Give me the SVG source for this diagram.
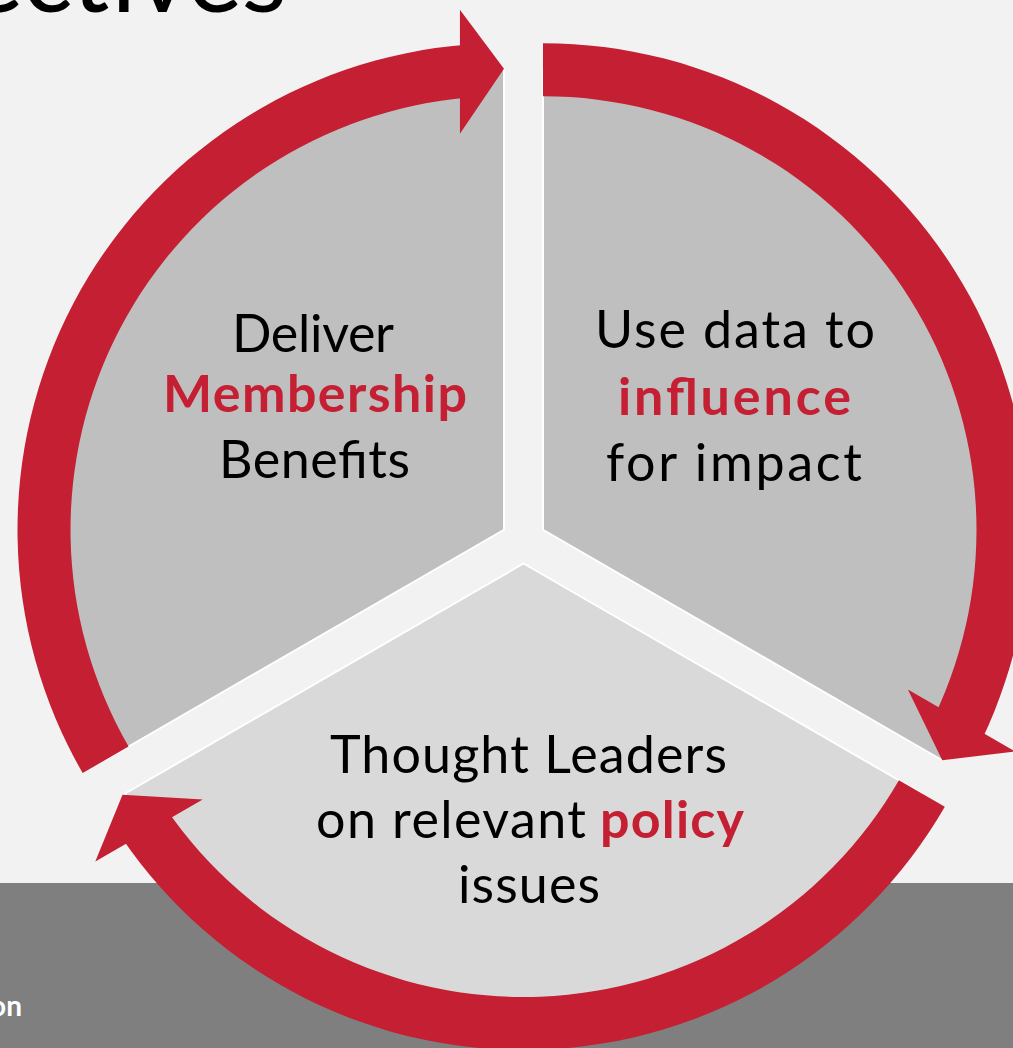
<svg xmlns="http://www.w3.org/2000/svg" width="1013" height="1048" viewBox="0 0 1013 1048">
<style>
.bg{fill:#f2f2f2}
.band{fill:#7f7f7f}
.sec{stroke:#ffffff;stroke-width:2}
.dark{fill:#bfbfbf}
.light{fill:#d9d9d9}
.ring{fill:#c41f32}
.t{font-family:Lato,"Open Sans","Liberation Sans",sans-serif;font-size:52px;fill:#000000;text-anchor:middle}
.b{font-weight:bold;fill:#c41f32}
</style>
<rect class="bg" x="0" y="0" width="1013" height="1048"/>
<rect class="band" x="0" y="883" width="1013" height="165"/>
<text x="-32" y="12" font-family="Lato,'Open Sans','Liberation Sans',sans-serif" font-size="105" fill="#000000" textLength="319">ectives</text>
<text x="22" y="1016" font-family="Lato,'Open Sans','Liberation Sans',sans-serif" font-size="28" font-weight="bold" fill="#ffffff" text-anchor="end">on</text>

<g id="node-membership">
<path class="sec dark" d="M504,529.75 L504,69.75 A460,460 0 0 0 105.63,759.75 Z"/>
</g>
<g id="node-influence">
<path class="sec dark" d="M543,529.75 L543,69.75 A460,460 0 0 1 941.37,759.75 Z"/>
</g>
<g id="node-policy">
<path class="sec light" d="M523.5,563.5 L921.87,793.5 A460,460 0 0 1 125.13,793.5 Z"/>
</g>

<g id="connectors">
<path class="ring" d="M82.68,773 A486.5,486.5 0 0 1 465.83,44.75 L469.99,97.59 A433.5,433.5 0 0 0 128.58,746.5 Z"/>
<polygon class="ring" points="459.91,9.87 504,68.75 459.91,133.87"/>
<path class="ring" d="M543,43.25 A486.5,486.5 0 0 1 982.11,739.19 L934.27,716.38 A433.5,433.5 0 0 0 543,96.25 Z"/>
<polygon class="ring" points="907.89,689.51 942.24,760.25 1015.27,751.51"/>
<path class="ring" d="M944.82,806.75 A486.5,486.5 0 0 1 122.56,839.06 L166.24,809.04 A433.5,433.5 0 0 0 898.92,780.25 Z"/>
<polygon class="ring" points="202.7,799.62 122.5,794.8 95.32,861.62"/>
</g>

<g id="labels-membership">
<text class="t" x="313" y="352" textLength="162">Deliver</text>
<text class="t b" x="315" y="412" textLength="304">Membership</text>
<text class="t" x="314.5" y="478" textLength="191">Benefits</text>
</g>
<g id="labels-influence">
<text class="t" x="735" y="348" textLength="280">Use data to</text>
<text class="t b" x="734.5" y="415" textLength="233">influence</text>
<text class="t" x="734" y="481" textLength="256">for impact</text>
</g>
<g id="labels-policy">
<text class="t" x="528.5" y="773" textLength="397">Thought Leaders</text>
<text class="t" x="316" y="838" textLength="270" style="text-anchor:start">on relevant</text>
<text class="t b" x="600" y="838" textLength="144" style="text-anchor:start">policy</text>
<text class="t" x="529" y="903" textLength="142">issues</text>
</g>
</svg>
